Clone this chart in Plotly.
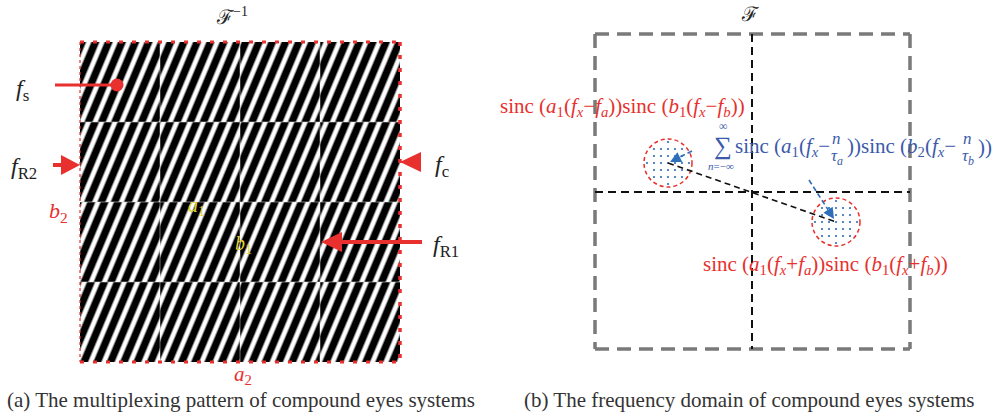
import numpy as np
import plotly.graph_objects as go

W, H = 996, 418
RED = "#e8302e"
YELLOW = "#e2d32c"
BLUE_TXT = "#3c5aaa"
BLUE = "#2e6fba"
GRAY = "#7a7a7a"
INK = "#222222"
SERIF = "Liberation Serif, Times New Roman, serif"

# ---------------- panel (a): multiplexed fringe pattern ----------------
pattern_x = [80, 400]          # left / right edge of the pattern
pattern_y = [42, 362]          # top / bottom edge of the pattern
n_cells = 4
fringe_period = 13.3           # stripe spacing along x (px)
fringe_slant = 0.42            # x shift of a stripe per unit of y
cell_phase = [                 # phase of each sub-aperture, fraction of a period
    [0.00, 0.35, 0.70, 0.15],
    [0.50, 0.85, 0.20, 0.60],
    [0.25, 0.05, 0.45, 0.90],
    [0.75, 0.40, 0.10, 0.55],
]

# ---------------- panel (b): frequency domain ----------------
freq_box_x = [595, 910]
freq_box_y = [34, 349]
freq_center = [752, 192]
lobe_centers = [(668, 163), (836, 222)]
lobe_radius = 24
sample_step = 7

fig = go.Figure()

# fringe image
xs = np.arange(pattern_x[0], pattern_x[1]) + 0.5
ys = np.arange(pattern_y[0], pattern_y[1]) + 0.5
X, Y = np.meshgrid(xs, ys)
cw = (pattern_x[1] - pattern_x[0]) / n_cells
ch = (pattern_y[1] - pattern_y[0]) / n_cells
ci = np.clip(((X - pattern_x[0]) // cw).astype(int), 0, n_cells - 1)
ri = np.clip(((Y - pattern_y[0]) // ch).astype(int), 0, n_cells - 1)
phase = np.array(cell_phase)[ri, ci]
Z = np.cos(2 * np.pi * ((X + fringe_slant * Y) / fringe_period + phase))
fig.add_trace(go.Heatmap(
    x=xs, y=ys, z=Z, zmin=-1, zmax=1, showscale=False, hoverinfo="skip",
    colorscale=[[0, "#000000"], [0.42, "#000000"], [0.7, "#9a9a9a"], [0.9, "#ffffff"], [1, "#ffffff"]],
))

shapes = []

def line(x0, y0, x1, y1, color, width, dash="solid"):
    shapes.append(dict(type="line", x0=x0, y0=y0, x1=x1, y1=y1, xref="x", yref="y",
                       line=dict(color=color, width=width, dash=dash)))

def head(tip, frm, length, half, color):
    tx, ty = tip
    dx, dy = tx - frm[0], ty - frm[1]
    d = (dx * dx + dy * dy) ** 0.5
    ux, uy = dx / d, dy / d
    bx, by = tx - ux * length, ty - uy * length
    px, py = -uy * half, ux * half
    path = f"M{tx},{ty} L{bx + px},{by + py} L{bx - px},{by - py} Z"
    shapes.append(dict(type="path", path=path, xref="x", yref="y",
                       fillcolor=color, line=dict(color=color, width=0)))
    return bx, by

# seams between sub-apertures
for k in range(1, n_cells):
    gx = pattern_x[0] + k * cw
    gy = pattern_y[0] + k * ch
    line(gx, pattern_y[0], gx, pattern_y[1], "rgba(255,255,255,0.45)", 1)
    line(pattern_x[0], gy, pattern_x[1], gy, "rgba(220,220,220,0.55)", 1)

# red dotted frame
line(pattern_x[0], pattern_y[0], pattern_x[1], pattern_y[0], RED, 3, "4px,9px")
line(pattern_x[0], pattern_y[1], pattern_x[1], pattern_y[1], RED, 3, "4px,9px")
line(pattern_x[1], pattern_y[0], pattern_x[1], pattern_y[1], RED, 3.5, "4px,9px")
line(pattern_x[0], pattern_y[0], pattern_x[0], pattern_y[1], RED, 1.2, "3px,3px")

# red pointers
line(55, 85, 117, 85, RED, 3)
shapes.append(dict(type="circle", x0=110.5, y0=78.5, x1=123.5, y1=91.5, xref="x", yref="y",
                   fillcolor=RED, line=dict(color=RED, width=0)))
bx, by = head((80, 165), (53, 165), 19, 10, RED)
line(53, 165, bx + 1, by, RED, 4)
head((400, 162), (422, 162), 21, 10, RED)
bx, by = head((321, 242), (422, 242), 21, 10, RED)
line(422, 242, bx - 1, by, RED, 4)

# ---------- panel (b) ----------
# outer gray frame
line(freq_box_x[0], freq_box_y[0], freq_box_x[1], freq_box_y[0], GRAY, 3.5, "14px,8px")
line(freq_box_x[0], freq_box_y[1], freq_box_x[1], freq_box_y[1], GRAY, 3.5, "14px,8px")
line(freq_box_x[0], freq_box_y[0], freq_box_x[0], freq_box_y[1], GRAY, 3.5, "14px,8px")
line(freq_box_x[1], freq_box_y[0], freq_box_x[1], freq_box_y[1], GRAY, 3.5, "14px,8px")
# axes through the origin
line(freq_center[0], freq_box_y[0], freq_center[0], freq_box_y[1], "#111111", 2, "8px,5px")
line(freq_box_x[0], freq_center[1], freq_box_x[1], freq_center[1], "#111111", 2, "8px,5px")

# lobes
for cx, cy in lobe_centers:
    shapes.append(dict(type="circle", x0=cx - lobe_radius, y0=cy - lobe_radius,
                       x1=cx + lobe_radius, y1=cy + lobe_radius, xref="x", yref="y",
                       line=dict(color=RED, width=1.5, dash="4px,3px")))

# link between the two lobes
line(lobe_centers[0][0], lobe_centers[0][1], lobe_centers[1][0], lobe_centers[1][1],
     "#111111", 1.6, "6px,4px")
# blue pointers
bx, by = head((670, 162), (692, 151), 11, 5.5, BLUE)
line(692, 151, bx, by, BLUE, 1.6, "5px,3px")
bx, by = head((834, 219), (809, 180), 11, 5.5, BLUE)
line(809, 180, bx, by, BLUE, 1.6, "5px,3px")

# sampling dots inside each lobe
offs = np.arange(-3, 4) * sample_step
dx_, dy_ = [], []
for cx, cy in lobe_centers:
    for ox in offs:
        for oy in offs:
            if ox * ox + oy * oy <= (lobe_radius - 3) ** 2:
                dx_.append(cx + ox)
                dy_.append(cy + oy)
fig.add_trace(go.Scatter(x=dx_, y=dy_, mode="markers", hoverinfo="skip",
                         marker=dict(color=BLUE, size=2.2, line=dict(width=0))))

# ---------------- text ----------------
ann = []

def text(x, y, s, size, color=INK, xanchor="center", yanchor="middle"):
    ann.append(dict(x=x, y=y, xref="x", yref="y", text=s, showarrow=False,
                    xanchor=xanchor, yanchor=yanchor,
                    font=dict(family=SERIF, size=size, color=color)))

text(232, 16, "ℱ<sup>−1</sup>", 20)
text(750, 14, "ℱ", 20)

text(22, 90, "<i>f</i><sub>s</sub>", 24)
text(24, 168, "<i>f</i><sub>R2</sub>", 24)
text(442, 166, "<i>f</i><sub>c</sub>", 24)
text(446, 246, "<i>f</i><sub>R1</sub>", 24)
text(58, 212, "<i>b</i><sub>2</sub>", 22, RED)
text(243, 375, "<i>a</i><sub>2</sub>", 21, RED)
text(196, 206, "<i>a</i><sub>1</sub>", 20, YELLOW)
text(243, 244, "<i>b</i><sub>1</sub>", 20, YELLOW)

text(241, 400, "(a) The multiplexing pattern of compound eyes systems", 21, "#333333")
text(749, 400, "(b) The frequency domain of compound eyes systems", 21, "#333333")

fx = "<i>f</i><sub><i>x</i></sub>"
text(622, 107, f"sinc (<i>a</i><sub>1</sub>({fx}−<i>f</i><sub><i>a</i></sub>))"
               f"sinc (<i>b</i><sub>1</sub>({fx}−<i>f</i><sub><i>b</i></sub>))", 21, RED)
text(825, 265, f"sinc (<i>a</i><sub>1</sub>({fx}+<i>f</i><sub><i>a</i></sub>))"
               f"sinc (<i>b</i><sub>1</sub>({fx}+<i>f</i><sub><i>b</i></sub>))", 21, RED)

# summation term, assembled piece by piece
text(723, 146, "∑", 25, BLUE_TXT)
text(723, 126, "∞", 12, BLUE_TXT)
text(721, 166, "<i>n</i>=−∞", 11, BLUE_TXT)
text(733, 147, f"sinc (<i>a</i><sub>1</sub>({fx}−", 21, BLUE_TXT, xanchor="left")
text(836, 138, "<i>n</i>", 17, BLUE_TXT)
text(837, 157, "<i>τ</i><sub><i>a</i></sub>", 17, BLUE_TXT)
text(845, 147, f"))sinc (<i>b</i><sub>2</sub>({fx}−", 21, BLUE_TXT, xanchor="left")
text(967, 138, "<i>n</i>", 17, BLUE_TXT)
text(968, 157, "<i>τ</i><sub><i>b</i></sub>", 17, BLUE_TXT)
text(976, 147, "))", 21, BLUE_TXT, xanchor="left")

fig.update_layout(
    width=W, height=H, margin=dict(l=0, r=0, t=0, b=0),
    paper_bgcolor="white", plot_bgcolor="white", showlegend=False,
    xaxis=dict(range=[0, W], visible=False, fixedrange=True),
    yaxis=dict(range=[H, 0], visible=False, fixedrange=True),
    shapes=shapes, annotations=ann,
)
fig.write_html("out.html", config={"displayModeBar": False})
